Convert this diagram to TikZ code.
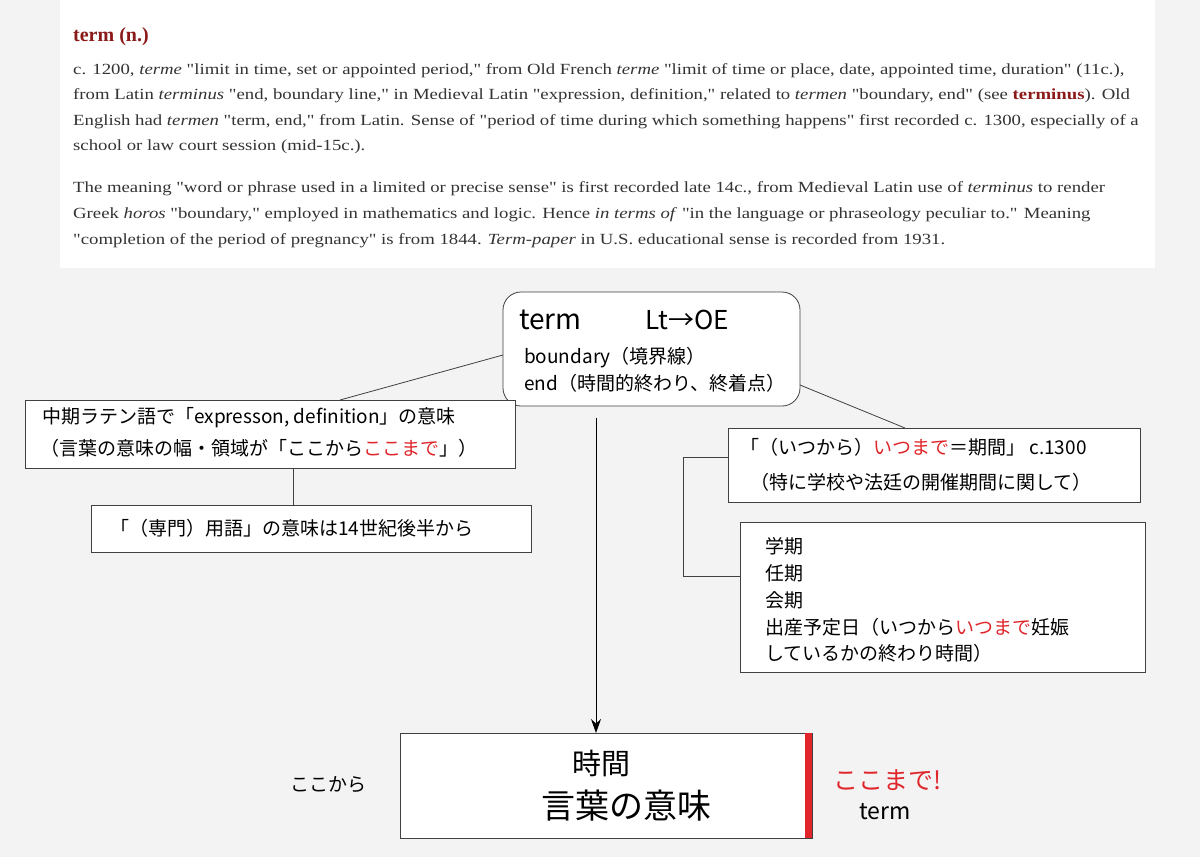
\documentclass[tikz,border=0pt]{standalone}
\usetikzlibrary{arrows.meta}
\usepackage{fontspec}
\setmainfont{Liberation Serif}
\newfontfamily\jp{Noto Sans CJK JP}
\definecolor{bg}{HTML}{F3F3F3}
\definecolor{dred}{HTML}{8B1A1A}
\definecolor{rd}{HTML}{E0262B}
\definecolor{tx}{HTML}{333333}
\tikzset{
 bx/.style={draw=black!75,line width=0.8pt,fill=white},
 ln/.style={draw=black!75,line width=0.8pt},
 etl/.style={anchor=west,inner sep=0,text=tx,font=\fontsize{15.5}{18}\selectfont},
 jt/.style={anchor=west,inner sep=0,font=\jp\fontsize{19}{22}\selectfont},
}
\newcommand{\R}[1]{\textcolor{rd}{#1}}
\newcommand{\q}{\textquotedbl}
\newcommand{\W}[1]{\scalebox{1.21}[1]{#1}}
\begin{document}
\begin{tikzpicture}[x=1pt,y=-1pt]
\fill[bg] (0,0) rectangle (1200,857);
\useasboundingbox (0,0) rectangle (1200,857);
\fill[white] (60,0) rectangle (1155,268);
\node[anchor=west,inner sep=0,text=dred,font=\bfseries\fontsize{20}{24}\selectfont] (title) at (73,37) {term (n.)};
\node[etl] (l1) at (73,71) {\W{c. 1200, \textit{terme} \q limit in time, set or appointed period,\q{} from Old French \textit{terme} \q limit of time or place, date, appointed time, duration\q{} (11c.),}};
\node[etl] (l2) at (73,96) {\W{from Latin \textit{terminus} \q end, boundary line,\q{} in Medieval Latin \q expression, definition,\q{} related to \textit{termen} \q boundary, end\q{} (see \textcolor{dred}{\textbf{terminus}}). Old}};
\node[etl] (l3) at (73,122) {\W{English had \textit{termen} \q term, end,\q{} from Latin. Sense of \q period of time during which something happens\q{} first recorded c. 1300, especially of a}};
\node[etl] (l4) at (73,147) {\W{school or law court session (mid-15c.).}};
\node[etl] (l5) at (73,189) {\W{The meaning \q word or phrase used in a limited or precise sense\q{} is first recorded late 14c., from Medieval Latin use of \textit{terminus} to render}};
\node[etl] (l6) at (73,215) {\W{Greek \textit{horos} \q boundary,\q{} employed in mathematics and logic. Hence \textit{in terms of} \q in the language or phraseology peculiar to.\q{} Meaning}};
\node[etl] (l7) at (73,241) {\W{\q completion of the period of pregnancy\q{} is from 1844. \textit{Term-paper} in U.S. educational sense is recorded from 1931.}};
% main box
\draw[bx,rounded corners=18pt] (503,292) rectangle (800,406);
\coordinate (mL) at (503,355); \coordinate (mR) at (800,385); \coordinate (mB) at (596,418);
\node[jt,font=\jp\fontsize{28}{30}\selectfont] (t1) at (519,320) {term};
\node[jt,font=\jp\fontsize{26}{30}\selectfont] (t2) at (645,320) {Lt→OE};
\node[jt] (t3) at (524,358) {boundary（境界線）};
\node[jt] (t4) at (524,383) {end（時間的終わり、終着点）};
% left boxes
\draw[bx] (25,400) rectangle (515,468);
\coordinate (lT) at (340,400); \coordinate (lB) at (293,468);
\node[jt] (a1) at (42,418) {中期ラテン語で「expresson, definition」の意味};
\node[jt] (a2) at (40,448) {（言葉の意味の幅・領域が「ここから\R{ここまで}」）};
\draw[bx] (91,505) rectangle (531,552);
\coordinate (l2T) at (293,505);
\node[jt] (b1) at (110,528) {「（専門）用語」の意味は14世紀後半から};
\draw[ln] (mL) -- (lT);
\draw[ln] (lB) -- (l2T);
% right boxes
\draw[bx] (728,428) rectangle (1140,502);
\coordinate (rT) at (905,428);
\node[jt] (c1) at (740,447) {「（いつから）\R{いつまで}＝期間」 c.1300};
\node[jt] (c2) at (750,482) {（特に学校や法廷の開催期間に関して）};
\draw[ln] (mR) -- (rT);
\draw[bx] (740,522) rectangle (1145,672);
\node[jt] (d1) at (765,546) {学期};
\node[jt] (d2) at (765,573) {任期};
\node[jt] (d3) at (765,600) {会期};
\node[jt] (d4) at (765,627) {出産予定日（いつから\R{いつまで}妊娠};
\node[jt] (d5) at (765,653) {しているかの終わり時間）};
\draw[ln] (728,457) -- (683,457) -- (683,576) -- (740,576);
% bottom
\draw[bx] (400,733) rectangle (812,838);
\fill[rd] (805,733) rectangle (812,838);
\draw[black,line width=1pt,-{Stealth[length=14pt,width=10pt]}] (mB) -- (596,733);
\node[jt,anchor=center,font=\jp\fontsize{29}{30}\selectfont] (e1) at (601,763) {時間};
\node[jt,anchor=center,font=\jp\fontsize{34}{36}\selectfont] (e2) at (626,806) {言葉の意味};
\node[jt,anchor=center] (f1) at (328,785) {ここから};
\node[jt,anchor=center,text=rd,font=\jp\fontsize{25}{26}\selectfont] (g1) at (888,780) {ここまで!};
\node[jt,anchor=center,font=\jp\fontsize{23}{24}\selectfont] (g2) at (885,812) {term};
\end{tikzpicture}
\end{document}
